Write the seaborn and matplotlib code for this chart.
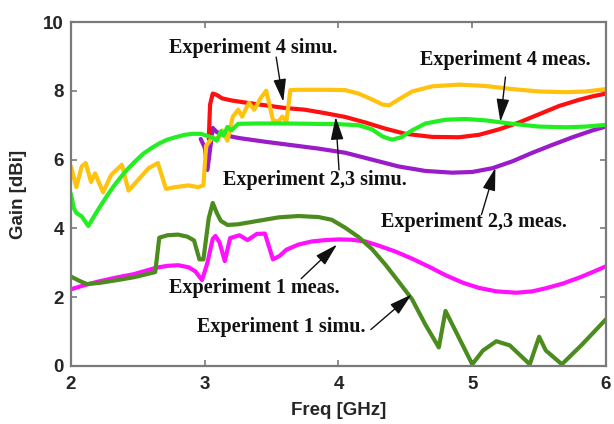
import matplotlib
matplotlib.use("Agg")
import matplotlib.pyplot as plt
import seaborn as sns
import pandas as pd

# Experiment 4 simulation
freq_e4_simu = [2.00, 2.04, 2.08, 2.11, 2.15, 2.18, 2.24, 2.30, 2.38, 2.43, 2.50, 2.58,
                2.65, 2.71, 2.78, 2.88, 2.95, 2.99, 3.01, 3.06, 3.10, 3.13, 3.17, 3.21,
                3.25, 3.28, 3.33, 3.37, 3.42, 3.46, 3.51, 3.55, 3.58, 3.61, 3.64, 3.70,
                3.90, 4.05, 4.15, 4.25, 4.33, 4.38, 4.45, 4.55, 4.70, 4.90, 5.10, 5.30,
                5.50, 5.70, 5.85, 6.00]
gain_e4_simu = [5.80, 5.20, 5.80, 5.90, 5.35, 5.60, 5.05, 5.55, 5.85, 5.10, 5.40, 5.75,
                5.90, 5.15, 5.20, 5.25, 5.20, 5.25, 6.40, 6.65, 6.60, 6.85, 6.55, 7.25,
                7.45, 7.25, 7.65, 7.45, 7.80, 8.00, 7.15, 7.10, 7.25, 7.10, 8.02, 8.03,
                8.03, 8.02, 7.92, 7.75, 7.60, 7.58, 7.75, 7.98, 8.13, 8.18, 8.14, 8.05,
                7.98, 7.96, 7.98, 8.05]

# Experiment 4 measurement
freq_e4_meas = [3.03, 3.04, 3.06, 3.09, 3.13, 3.20, 3.30, 3.45, 3.60, 3.75, 3.90, 4.05,
                4.20, 4.35, 4.50, 4.70, 4.90, 5.05, 5.20, 5.35, 5.50, 5.65, 5.80, 5.90, 6.00]
gain_e4_meas = [6.60, 7.60, 7.92, 7.88, 7.78, 7.72, 7.66, 7.58, 7.50, 7.45, 7.35, 7.24,
                7.08, 6.90, 6.75, 6.66, 6.65, 6.72, 6.88, 7.08, 7.32, 7.56, 7.74, 7.84, 7.92]

# Experiment 2,3 simulation
freq_e23_simu = [2.00, 2.02, 2.04, 2.08, 2.13, 2.18, 2.22, 2.27, 2.32, 2.37, 2.42, 2.48,
                 2.54, 2.60, 2.66, 2.72, 2.79, 2.85, 2.91, 2.97, 3.01, 3.05, 3.09, 3.12,
                 3.14, 3.17, 3.20, 3.25, 3.40, 3.60, 3.80, 4.00, 4.15, 4.25, 4.33, 4.40,
                 4.47, 4.55, 4.65, 4.80, 4.95, 5.10, 5.30, 5.50, 5.70, 5.85, 6.00]
gain_e23_simu = [5.00, 4.60, 4.45, 4.35, 4.07, 4.40, 4.65, 4.95, 5.23, 5.48, 5.71, 5.95,
                 6.17, 6.33, 6.47, 6.58, 6.66, 6.72, 6.75, 6.75, 6.70, 6.65, 6.55, 6.82,
                 6.70, 6.95, 6.85, 7.04, 7.05, 7.05, 7.04, 7.03, 7.00, 6.88, 6.67, 6.58,
                 6.65, 6.85, 7.05, 7.16, 7.18, 7.14, 7.04, 6.96, 6.94, 6.96, 7.01]

# Experiment 2,3 measurement
freq_e23_meas = [2.97, 3.00, 3.02, 3.04, 3.06, 3.09, 3.14, 3.25, 3.45, 3.65, 3.85, 4.05,
                 4.25, 4.45, 4.65, 4.85, 5.00, 5.15, 5.30, 5.45, 5.60, 5.75, 5.90, 6.00]
gain_e23_meas = [6.60, 6.35, 5.70, 6.30, 6.92, 6.80, 6.72, 6.63, 6.52, 6.42, 6.32, 6.20,
                 6.00, 5.80, 5.67, 5.62, 5.64, 5.75, 5.95, 6.20, 6.43, 6.65, 6.85, 6.96]

# Experiment 1 measurement
freq_e1_meas = [2.00, 2.10, 2.22, 2.35, 2.47, 2.56, 2.64, 2.72, 2.80, 2.88, 2.93, 2.98,
                3.02, 3.06, 3.08, 3.11, 3.15, 3.19, 3.26, 3.32, 3.39, 3.45, 3.51, 3.56,
                3.61, 3.70, 3.80, 3.90, 4.00, 4.10, 4.20, 4.30, 4.43, 4.55, 4.68, 4.80,
                4.93, 5.05, 5.18, 5.33, 5.45, 5.55, 5.68, 5.80, 5.90, 6.00]
gain_e1_meas = [2.23, 2.35, 2.47, 2.58, 2.67, 2.77, 2.86, 2.91, 2.93, 2.87, 2.75, 2.50,
                3.00, 3.70, 3.78, 3.60, 3.05, 3.72, 3.80, 3.66, 3.84, 3.85, 3.10, 3.20,
                3.38, 3.53, 3.62, 3.66, 3.68, 3.67, 3.62, 3.50, 3.32, 3.12, 2.88, 2.64,
                2.42, 2.27, 2.17, 2.13, 2.17, 2.26, 2.40, 2.57, 2.73, 2.90]

# Experiment 1 simulation
freq_e1_simu = [2.00, 2.06, 2.12, 2.22, 2.35, 2.47, 2.63, 2.66, 2.72, 2.80, 2.87, 2.92,
                2.96, 2.99, 3.03, 3.06, 3.09, 3.12, 3.17, 3.25, 3.40, 3.55, 3.70, 3.85,
                3.95, 4.05, 4.15, 4.25, 4.35, 4.45, 4.55, 4.65, 4.75, 4.80, 5.00, 5.08,
                5.18, 5.28, 5.43, 5.50, 5.55, 5.67, 5.82, 6.00]
gain_e1_simu = [2.60, 2.48, 2.38, 2.42, 2.50, 2.58, 2.73, 3.73, 3.80, 3.82, 3.76, 3.65,
                3.10, 3.10, 4.30, 4.74, 4.45, 4.22, 4.10, 4.12, 4.22, 4.32, 4.36, 4.33,
                4.25, 4.02, 3.75, 3.40, 2.95, 2.45, 1.94, 1.20, 0.54, 1.60, 0.05, 0.45,
                0.72, 0.60, 0.05, 0.85, 0.45, 0.05, 0.62, 1.36]

x_ticks = [2, 3, 4, 5, 6]
y_ticks = [0, 2, 4, 6, 8, 10]

series = [
    (freq_e23_meas, gain_e23_meas, "#9A1BC8"),
    (freq_e4_meas, gain_e4_meas, "#FF1010"),
    (freq_e4_simu, gain_e4_simu, "#FFC20E"),
    (freq_e23_simu, gain_e23_simu, "#22EE22"),
    (freq_e1_meas, gain_e1_meas, "#FF10FF"),
    (freq_e1_simu, gain_e1_simu, "#4C8C1E"),
]

sns.set_style("ticks")
plt.rcParams["font.family"] = ["Liberation Sans", "DejaVu Sans"]

fig = plt.figure(figsize=(6.14, 4.24), dpi=100)
ax = fig.add_axes([0.1156, 0.1368, 0.8714, 0.8113])

for fx, gy, col in series:
    df = pd.DataFrame({"Freq": fx, "Gain": gy})
    sns.lineplot(data=df, x="Freq", y="Gain", ax=ax, color=col, lw=3.0,
                 sort=False, estimator=None)

ax.set_xlim(2, 6)
ax.set_ylim(0, 10)
ax.set_xticks(x_ticks)
ax.set_yticks(y_ticks)
ax.set_xticklabels([str(t) for t in x_ticks])
ax.set_yticklabels([str(t) for t in y_ticks])

for sp in ax.spines.values():
    sp.set_visible(True)
    sp.set_color("#7a7a7a")
    sp.set_linewidth(1.6)

ax.tick_params(direction="in", length=4, width=1.2, color="#7a7a7a",
               top=True, right=True, labelsize=13.5)
ax.tick_params(axis="x", pad=7)
ax.tick_params(axis="y", pad=5)
for lab in ax.get_xticklabels() + ax.get_yticklabels():
    lab.set_fontweight("bold")

ax.set_xlabel("Freq [GHz]", fontsize=13.5, fontweight="bold", labelpad=7)
ax.set_ylabel("Gain [dBi]", fontsize=13.5, fontweight="bold", labelpad=12)

# annotation labels with arrows pointing to their curves
labels = [
    ("Experiment 4 simu.", (3.363, 9.245), (3.534, 8.98), (3.587, 7.68)),
    ("Experiment 4 meas.", (5.244, 8.897), (5.248, 8.40), (5.210, 7.10)),
    ("Experiment 2,3 simu.", (3.821, 5.414), (4.004, 5.70), (3.979, 7.24)),
    ("Experiment 2,3 meas.", (5.009, 4.194), (5.069, 4.40), (5.173, 5.76)),
    ("Experiment 1 meas.", (3.371, 2.279), (3.721, 2.54), (3.989, 3.53)),
    ("Experiment 1 simu.", (3.572, 1.147), (4.242, 1.06), (4.547, 2.08)),
]
for text, pos, tail, tip in labels:
    ax.text(pos[0], pos[1], text, ha="center", va="center", fontsize=14.5,
            fontweight="bold", family=["Liberation Serif", "DejaVu Serif"],
            color="#111111", zorder=5)
    ax.annotate("", xy=tip, xytext=tail,
                arrowprops=dict(arrowstyle="-|>,head_length=1.0,head_width=0.28",
                                color="#111111", lw=1.0, mutation_scale=14,
                                shrinkA=0, shrinkB=0),
                zorder=6)

fig.savefig("out.png", dpi=100)
